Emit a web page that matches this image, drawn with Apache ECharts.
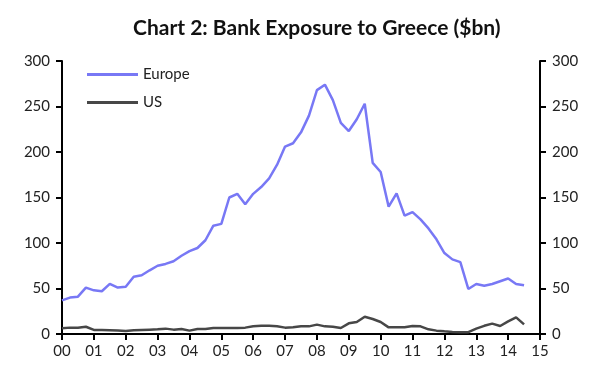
<!DOCTYPE html>
<html><head><meta charset="utf-8">
<script src="https://cdn.jsdelivr.net/npm/echarts@6/dist/echarts.min.js"></script>
<style>html,body{margin:0;padding:0;background:#fff}#c{width:600px;height:369px}</style>
</head><body><div id="c"></div>
<script>
// Quarterly, 2000Q1 .. 2014Q3
const startYear = 2000;
const europe = [37,40,41,51,48,47,55,51,52,63,64.5,70,75,77,80,86,91,94.5,103,119,121,150,154,142.5,154,161.5,171,186,206,209.6,221.6,240,268,274,257,232,223,236,253,188,178,140,154.6,130,134,126,116,104,89,82,79,49.5,55,53,55,58,61,55,53.5];
const us = [6.2,7,6.8,8,4.5,4.4,4.2,3.8,3.3,4,4.4,4.8,5.1,5.9,4.8,5.5,3.7,5.5,5.5,6.6,6.6,6.6,6.6,7,8.4,9,9,8.4,7,7.3,8.4,8.4,10.3,8.4,8,6.6,11.7,13.2,19,16.5,13.2,7.3,7.3,7.3,8.8,8.4,5.1,3.7,2.9,2.2,1.8,2,5.9,9,11.4,8.8,13.9,18.3,10.6];
const xTickLabels = ["00","01","02","03","04","05","06","07","08","09","10","11","12","13","14","15"];
const yTicks = [0,50,100,150,200,250,300];

const toPairs = arr => arr.map((v,i)=>[i/4, v]);
const font = 'Lato, "Open Sans", sans-serif';
const yAxisCommon = {
  type:'value', min:0, max:300, interval:50,
  axisLine:{show:true,lineStyle:{color:'#000',width:2}},
  axisTick:{show:true,length:6,lineStyle:{color:'#000',width:2}},
  axisLabel:{color:'#222',fontSize:15,fontFamily:font,margin:12},
  splitLine:{show:false}
};
const chart = echarts.init(document.getElementById('c'));
chart.setOption({
  animation:false,
  backgroundColor:'#fff',
  title:{text:'Chart 2: Bank Exposure to Greece ($bn)',left:128,top:13,
    textStyle:{fontFamily:font,fontWeight:'bold',fontSize:21,color:'#111'}},
  legend:{orient:'vertical',left:82,top:62,itemWidth:51,itemHeight:3,itemGap:13,
    icon:'rect',
    textStyle:{fontFamily:font,fontSize:15,color:'#222'},
    data:['Europe','US']},
  grid:{left:62,right:60,top:61,bottom:35},
  xAxis:{type:'value',min:0,max:15,interval:1,
    axisLine:{lineStyle:{color:'#000',width:2}},
    axisTick:{length:6,lineStyle:{color:'#000',width:2}},
    axisLabel:{color:'#222',fontSize:15,fontFamily:font,margin:10,
      formatter:v=>xTickLabels[Math.round(v)]},
    splitLine:{show:false}},
  yAxis:[Object.assign({position:'left'},yAxisCommon),
         Object.assign({position:'right'},yAxisCommon)],
  series:[
    {name:'Europe',type:'line',data:toPairs(europe),symbol:'none',
      lineStyle:{color:'#7878F5',width:2.5},itemStyle:{color:'#7878F5'}},
    {name:'US',type:'line',data:toPairs(us),symbol:'none',
      lineStyle:{color:'#474747',width:2.5},itemStyle:{color:'#474747'}}
  ]
});
</script></body></html>
